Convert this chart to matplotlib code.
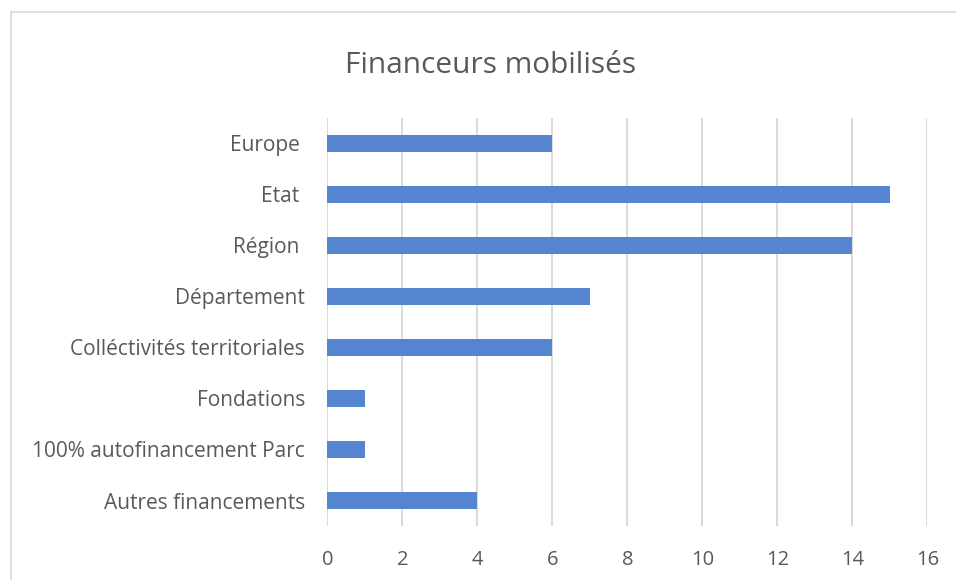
import matplotlib.pyplot as plt
from matplotlib.lines import Line2D

categories = ["Europe ", "Etat ", "Région ", "Département", "Colléctivités territoriales",
              "Fondations", "100% autofinancement Parc", "Autres financements"]
values = [6, 15, 14, 7, 6, 1, 1, 4]
xticks = [0, 2, 4, 6, 8, 10, 12, 14, 16]

text_color = "#595959"
plt.rcParams["font.family"] = ["Open Sans", "DejaVu Sans"]

fig = plt.figure(figsize=(9.56, 5.8), dpi=100)
ax = fig.add_axes([0.3424, 0.0931, 0.6276, 0.7035])

pos = list(range(len(categories)))
ax.barh(pos, values, height=0.35, color="#5585D1", zorder=3)
ax.set_ylim(len(categories) - 0.5, -0.5)
ax.set_yticks(pos)
ax.set_yticklabels(categories)
ax.set_xlim(0, 16)
ax.set_xticks(xticks)
ax.grid(axis="x", color="#d9d9d9", linewidth=1.4, zorder=0)
for s in ax.spines.values():
    s.set_visible(False)
ax.tick_params(length=0, colors=text_color, labelsize=15)
ax.tick_params(axis="x", pad=17, labelsize=14.5)
ax.tick_params(axis="y", pad=16)

fig.text(0.513, 0.874, "Financeurs mobilisés", ha="center", va="baseline",
         fontsize=21.5, color=text_color)

# chart frame
fig.add_artist(Line2D([0.0115, 0.0115], [0, 0.979], color="#d9d9d9", linewidth=1.2))
fig.add_artist(Line2D([0.0115, 1.0], [0.979, 0.979], color="#d9d9d9", linewidth=1.2))

plt.savefig("out.png", dpi=100)
